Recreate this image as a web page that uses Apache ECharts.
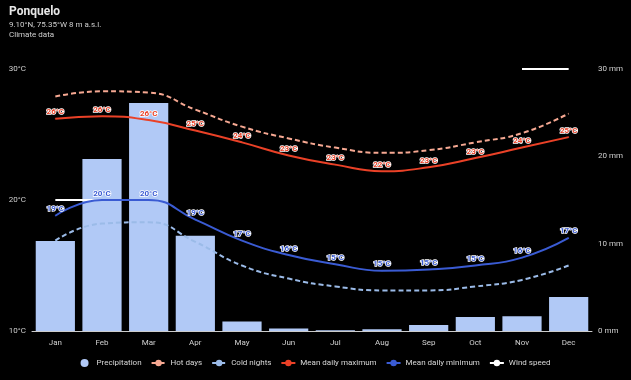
<!DOCTYPE html>
<html><head><meta charset="utf-8">
<script src="https://cdn.jsdelivr.net/npm/echarts@6/dist/echarts.min.js"></script>
<style>html,body{margin:0;padding:0;background:#000;}#c{width:631px;height:380px;}</style>
</head><body><div id="c"></div>
<script>
var months = ['Jan','Feb','Mar','Apr','May','Jun','Jul','Aug','Sep','Oct','Nov','Dec'];
var precipitation = [10.3, 19.7, 26.1, 10.9, 1.1, 0.3, 0.1, 0.2, 0.7, 1.6, 1.7, 3.9];
var hotDays = [27.9, 28.3, 28.2, 26.9, 25.6, 24.7, 24.0, 23.6, 23.8, 24.4, 25.1, 26.6];
var coldNights = [16.9, 18.2, 18.3, 16.8, 15.0, 14.0, 13.4, 13.1, 13.1, 13.4, 13.9, 15.0];
var meanMax = [26.2, 26.4, 26.1, 25.3, 24.4, 23.4, 22.7, 22.2, 22.5, 23.2, 24.0, 24.8];
var meanMin = [18.8, 20.0, 20.0, 18.5, 16.9, 15.8, 15.1, 14.6, 14.7, 15.0, 15.6, 17.1];
var windSpeed = [20, 20, 20, null, null, null, null, null, null, null, 30, 30];
var tempTicks = {min: 10, max: 30, interval: 10};
var precTicks = {min: 0, max: 30, interval: 10};

var chart = echarts.init(document.getElementById('c'));
var fam = 'Roboto, "Noto Sans", sans-serif';
function lbl(color){
  return {show: true, position: 'top', distance: 2, fontSize: 8, fontWeight: 'bold', fontFamily: fam, color: color,
    textBorderColor: '#ffffff', textBorderWidth: 1.5,
    formatter: function(p){ return Math.round(p.value) + '°C'; }};
}
chart.setOption({
  backgroundColor: '#000',
  animation: false,
  title: {
    text: 'Ponquelo',
    subtext: '9.10°N, 75.35°W 8 m a.s.l.\nClimate data',
    left: 4, top: 1, itemGap: 2,
    textStyle: {color: '#e6e6e6', fontSize: 12, fontWeight: 'bold', fontFamily: fam},
    subtextStyle: {color: '#cfcfcf', fontSize: 8, lineHeight: 10, fontFamily: fam}
  },
  legend: {
    bottom: 8, left: 'center', itemWidth: 14, itemHeight: 8, itemGap: 9,
    textStyle: {color: '#d8d8d8', fontSize: 8, fontFamily: fam},
    data: [
      {name: 'Precipitation', icon: 'circle'},
      'Hot days', 'Cold nights', 'Mean daily maximum', 'Mean daily minimum', 'Wind speed'
    ]
  },
  grid: {left: 32, right: 39, top: 69, bottom: 49},
  xAxis: {
    type: 'category', data: months,
    axisLine: {lineStyle: {color: '#cccccc'}},
    axisTick: {show: false},
    axisLabel: {color: '#d0d0d0', fontSize: 8, fontFamily: fam, margin: 8}
  },
  yAxis: [
    {type: 'value', min: tempTicks.min, max: tempTicks.max, interval: tempTicks.interval,
     splitLine: {show: false}, axisLine: {show: false}, axisTick: {show: false},
     axisLabel: {color: '#d0d0d0', fontSize: 8, fontFamily: fam, formatter: '{value}°C', margin: 6}},
    {type: 'value', min: precTicks.min, max: precTicks.max, interval: precTicks.interval,
     splitLine: {show: false}, axisLine: {show: false}, axisTick: {show: false},
     axisLabel: {color: '#d0d0d0', fontSize: 8, fontFamily: fam, formatter: '{value} mm', margin: 6}}
  ],
  series: [
    {name: 'Precipitation', type: 'bar', yAxisIndex: 1, data: precipitation,
     barCategoryGap: '16%', itemStyle: {color: '#b1c9f6'}, z: 1},
    {name: 'Hot days', type: 'line', data: hotDays, smooth: true, symbol: 'none',
     lineStyle: {color: '#f6a892', width: 2, type: [5, 3]}, itemStyle: {color: '#f6a892'}, z: 3},
    {name: 'Cold nights', type: 'line', data: coldNights, smooth: true, symbol: 'none',
     lineStyle: {color: '#9bbbe8', width: 2, type: [5, 3]}, itemStyle: {color: '#9bbbe8'}, z: 3},
    {name: 'Mean daily maximum', type: 'line', data: meanMax, smooth: true,
     symbol: 'circle', symbolSize: 1, showSymbol: true,
     lineStyle: {color: '#ea4127', width: 2}, itemStyle: {color: '#ea4127'}, label: lbl('#ea4127'), z: 4},
    {name: 'Mean daily minimum', type: 'line', data: meanMin, smooth: true,
     symbol: 'circle', symbolSize: 1, showSymbol: true,
     lineStyle: {color: '#3a5bd3', width: 2}, itemStyle: {color: '#3a5bd3'}, label: lbl('#3a5bd3'), z: 4},
    {name: 'Wind speed', type: 'line', data: windSpeed, symbol: 'none',
     lineStyle: {color: '#ffffff', width: 2}, itemStyle: {color: '#ffffff'}, z: 2}
  ]
});
</script></body></html>
